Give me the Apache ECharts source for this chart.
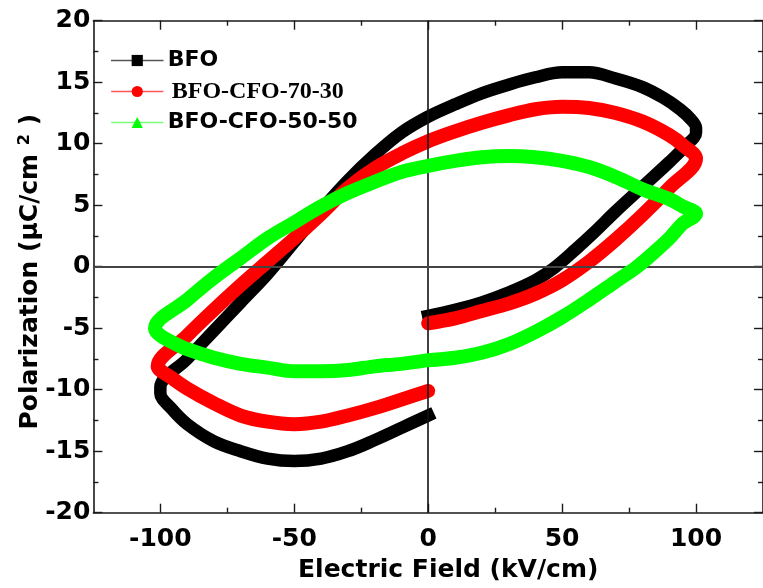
<!DOCTYPE html>
<html><head><meta charset="utf-8">
<script src="https://cdn.jsdelivr.net/npm/echarts@6/dist/echarts.min.js"></script>
<style>html,body{margin:0;padding:0;background:#fff}#c{width:763px;height:588px}</style>
</head><body><div id="c"></div>
<script>
// ---- data (E in kV/cm, P in uC/cm^2), loop order: rising -> upper -> lower ----
const seriesNames = ['BFO', 'BFO-CFO-70-30', 'BFO-CFO-50-50'];

const bfoE = [0,10,20,30,40,47,55,62,70,80,90,96,100,
              100,98,94,88,80,70,60,50,40,30,20,10,0,-10,-20,-30,-40,-50,-60,-70,-80,-90,-100,
              -100,-96,-90,-80,-70,-60,-50,-40,-30,-20,-10,0];
const bfoP = [-4.0,-3.5,-2.9,-2.1,-1.1,-0.1,1.4,2.8,4.5,6.5,8.5,9.8,10.9,
              11.3,12.0,12.8,13.7,14.6,15.3,15.8,15.8,15.4,14.8,14.1,13.2,12.2,10.9,9.1,7.0,4.6,2.0,-0.6,-2.9,-5.2,-7.5,-9.8,
              -10.3,-11.5,-12.8,-14.2,-15.0,-15.6,-15.8,-15.6,-15.0,-14.1,-13.1,-12.1];

const cfo7030E = [0,10,20,30,40,50,60,70,80,90,100,
                  95,90,80,70,60,50,40,30,20,10,0,-10,-20,-30,-40,-50,-60,-70,-80,-90,-101,
                  -96,-90,-80,-70,-60,-50,-40,-30,-20,-10,0];
const cfo7030P = [-4.6,-4.2,-3.6,-3.0,-2.2,-1.1,0.4,2.2,4.2,6.4,8.8,
                  9.9,10.7,11.8,12.5,12.9,13.0,12.8,12.3,11.7,11.0,10.2,9.2,8.0,6.4,4.3,2.3,0.4,-1.5,-3.5,-5.6,-8.1,
                  -9.0,-9.9,-11.1,-12.1,-12.6,-12.8,-12.6,-12.1,-11.5,-10.8,-10.1];

const cfo5050E = [0,10,20,30,40,50,60,70,78,85,90,95,100,
                  95,90,80,70,60,50,40,30,20,10,0,-10,-20,-30,-40,-50,-60,-70,-80,-90,-102,
                  -100,-95,-90,-80,-70,-60,-50,-40,-30,-20,-10,0];
const cfo5050P = [-7.6,-7.4,-7.0,-6.3,-5.3,-4.1,-2.7,-1.2,0,1.3,2.3,3.5,4.3,
                  4.9,5.5,6.3,7.3,8.1,8.6,8.9,9.0,8.9,8.6,8.2,7.7,6.9,6.0,4.9,3.6,2.3,0.7,-0.9,-2.7,-5.0,
                  -5.6,-6.2,-6.7,-7.4,-7.9,-8.2,-8.5,-8.5,-8.4,-8.1,-7.9,-7.6];

// ---- axes ticks / labels ----
const xMajorTicks = [-100, -50, 0, 50, 100];
const xMinorTicks = [-75, -25, 25, 75];
const yTickLabels = [-20, -15, -10, -5, 0, 5, 10, 15, 20];

const pairs = (xs, ys) => xs.map((x, i) => [x, ys[i]]);

const chart = echarts.init(document.getElementById('c'), null, {renderer: 'canvas'});
const FONT = 'DejaVu Sans';
const axisCol = '#1a1a1a';
const lbl = {color: '#000', fontFamily: FONT, fontWeight: 'bold', fontSize: 25};

function xAxisDef(pos, major, withLabel) {
  return {
    type: 'value', position: pos, min: -125, max: 125, gridIndex: 0,
    axisLine: {show: major, onZero: false, lineStyle: {color: axisCol, width: 1.6}},
    axisTick: {show: true, inside: true, length: major ? 9 : 5,
               customValues: major ? xMajorTicks : xMinorTicks,
               lineStyle: {color: axisCol, width: 1.4}},
    axisLabel: withLabel ? Object.assign({customValues: xMajorTicks, margin: 14}, lbl) : {show: false},
    splitLine: {show: false},
    name: withLabel ? 'Electric Field (kV/cm)' : '',
    nameLocation: 'middle', nameGap: 45, nameMoveOverlap: false,
    nameTextStyle: {color: '#000', fontFamily: FONT, fontWeight: 'bold', fontSize: 25, padding: [0, 0, 0, 40]}
  };
}

function yAxisDef(pos, withLabel) {
  return {
    type: 'value', position: pos, min: -20, max: 20, interval: 5, gridIndex: 0,
    axisLine: {show: true, onZero: false, lineStyle: {color: axisCol, width: 1.6}},
    axisTick: {show: true, inside: true, length: 9, lineStyle: {color: axisCol, width: 1.4}},
    minorTick: {show: true, splitNumber: 2, length: 5, lineStyle: {color: axisCol, width: 1.4}},
    axisLabel: withLabel ? Object.assign({margin: 3, formatter: v => yTickLabels.includes(v) ? String(v) : ''}, lbl) : {show: false},
    splitLine: {show: false},
    minorSplitLine: {show: false},
    name: withLabel ? '{t|Polarization (μC/cm }{s|2}{t| )}' : '',
    nameLocation: 'middle', nameGap: 49, nameRotate: 90, nameMoveOverlap: false,
    nameTextStyle: {
      color: '#000', fontFamily: FONT, fontWeight: 'bold', fontSize: 25, padding: [0, 10, 0, 0],
      rich: {
        t: {fontFamily: FONT, fontWeight: 'bold', fontSize: 25, color: '#000'},
        s: {fontFamily: FONT, fontWeight: 'bold', fontSize: 16, color: '#000', padding: [0, 0, 12, 0]}
      }
    }
  };
}

const colors = ['#000000', '#ff0000', '#00ff00'];
const legendLine = ['#555555', '#ff5555', '#77ff77'];
const symbols = ['rect', 'circle', 'triangle'];
const datas = [pairs(bfoE, bfoP), pairs(cfo7030E, cfo7030P), pairs(cfo5050E, cfo5050P)];
const widths = [12.5, 14, 14];

const series = seriesNames.map((n, i) => ({
  name: n, type: 'line', xAxisIndex: 0, yAxisIndex: 0,
  data: datas[i], showSymbol: false, symbol: symbols[i], symbolSize: [11, 13, 15][i],
  smooth: 0.35,
  itemStyle: {color: colors[i]},
  lineStyle: {color: colors[i], width: widths[i], cap: i === 0 ? 'square' : 'round', join: i === 0 ? 'miter' : 'round'},
  z: 3 + i, animation: false
}));
series[0].markLine = {
  silent: true, symbol: 'none', label: {show: false}, animation: false,
  data: [
    {xAxis: 0, lineStyle: {color: '#111', width: 1.6, type: 'solid'}},
    {yAxis: 0, lineStyle: {color: '#444', width: 1.8, type: 'solid'}}
  ]
};

chart.setOption({
  backgroundColor: '#fff',
  animation: false,
  grid: {left: 93.4, top: 20.7, width: 673.2, height: 492, containLabel: false},
  xAxis: [xAxisDef('bottom', true, true), xAxisDef('bottom', false, false),
          xAxisDef('top', true, false), xAxisDef('top', false, false)],
  yAxis: [yAxisDef('left', true), yAxisDef('right', false)],
  legend: {
    orient: 'vertical', left: 106, top: 43, itemWidth: 51, itemHeight: 14, itemGap: 6,
    textStyle: {color: '#000', fontFamily: FONT, fontWeight: 'bold', fontSize: 22, lineHeight: 25},
    data: [
      {name: 'BFO', lineStyle: {width: 1.5, color: legendLine[0]}, textStyle: {padding: [0, 0, 0, 0]}},
      {name: 'BFO-CFO-70-30', lineStyle: {width: 1.5, color: legendLine[1]}, textStyle: {fontFamily: 'Liberation Serif', fontSize: 24, fontWeight: 'bold', padding: [0, 0, 0, 4]}},
      {name: 'BFO-CFO-50-50', lineStyle: {width: 1.5, color: legendLine[2]}, textStyle: {padding: [0, 0, 0, 0]}}
    ]
  },
  series: series
});
</script></body></html>
